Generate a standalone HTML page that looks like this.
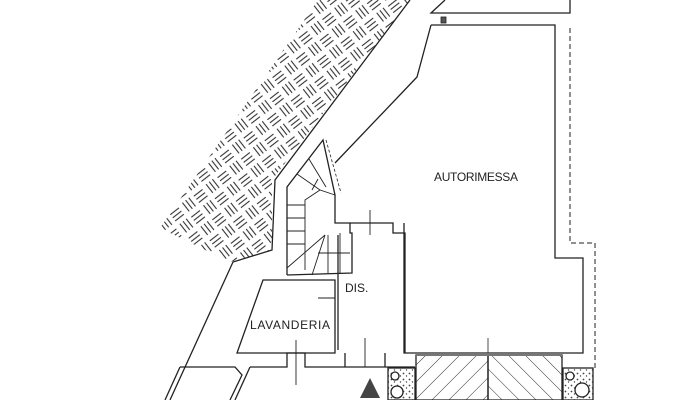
<!DOCTYPE html>
<html><head><meta charset="utf-8"><style>
html,body{margin:0;padding:0;background:#fff;}
svg{display:block;}
text{font-family:"Liberation Sans",sans-serif;font-size:12px;fill:#222;}
</style></head><body>
<svg width="700" height="400" viewBox="0 0 700 400" xmlns="http://www.w3.org/2000/svg">
<defs>
<pattern id="bw" width="30" height="30" patternUnits="userSpaceOnUse" patternTransform="rotate(-38)">
<g stroke="#333" stroke-width="1.1" fill="none">
<line x1="2" y1="4" x2="13" y2="4"/><line x1="2" y1="8" x2="13" y2="8"/><line x1="2" y1="12" x2="13" y2="12"/>
<line x1="19" y1="2" x2="19" y2="13"/><line x1="23" y1="2" x2="23" y2="13"/><line x1="27" y1="2" x2="27" y2="13"/>
<line x1="4" y1="17" x2="4" y2="28"/><line x1="8" y1="17" x2="8" y2="28"/><line x1="12" y1="17" x2="12" y2="28"/>
<line x1="17" y1="19" x2="28" y2="19"/><line x1="17" y1="23" x2="28" y2="23"/><line x1="17" y1="27" x2="28" y2="27"/>
</g></pattern>
<pattern id="hl" width="12" height="12" patternUnits="userSpaceOnUse" patternTransform="rotate(45)"><line x1="0" y1="0" x2="0" y2="12" stroke="#333" stroke-width="1"/></pattern>
<pattern id="hr" width="12" height="12" patternUnits="userSpaceOnUse" patternTransform="rotate(-45)"><line x1="0" y1="0" x2="0" y2="12" stroke="#333" stroke-width="1"/></pattern>
<pattern id="gr" width="6" height="6" patternUnits="userSpaceOnUse"><rect width="6" height="6" fill="#fff"/><circle cx="1.5" cy="1.5" r="0.9" fill="#444"/><circle cx="4.5" cy="4" r="0.7" fill="#444"/></pattern>
</defs>
<g fill="none" stroke="#222" stroke-width="1.3">
<polygon points="318,0 410,0 272,180 272,250 230,262 160,228" fill="url(#bw)" stroke="none"/>
<polyline points="410,0 275,180 272,250 233,262 170,400"/>
<polyline points="431,25 417,77 335,163"/>
<polyline points="445,0 431,13 570,13 570,0"/>
<rect x="441" y="17" width="5" height="6" fill="#555" stroke-width="0.8"/>
<polyline points="431,25 555,25 555,258 583,258 583,353 404,353 404,223"/>
<text x="434" y="181" stroke="none" textLength="84">AUTORIMESSA</text>
<line x1="488" y1="338" x2="488" y2="353" stroke-width="0.8"/>
<polyline points="570,28 570,243 595,243 595,370" stroke-dasharray="5,3" stroke-width="1"/>
<!-- stairs -->
<polyline points="287,275 287,187 323,140 335,195 335,223 350,223 350,233 352,233 352,273 287,275"/>
<line x1="326" y1="140" x2="341" y2="193" stroke-dasharray="3,2" stroke-width="0.8"/>
<g stroke-width="0.9">
<polyline points="305,270 305,200 320,190 335,195"/>
<line x1="287" y1="205" x2="305" y2="205"/><line x1="287" y1="218" x2="305" y2="218"/>
<line x1="287" y1="231" x2="305" y2="231"/><line x1="287" y1="244" x2="305" y2="244"/>
<line x1="287" y1="268" x2="325" y2="235"/><line x1="312" y1="275" x2="325" y2="235"/>
<line x1="297" y1="174" x2="320" y2="190"/><line x1="309" y1="159" x2="326" y2="187"/>
<line x1="328" y1="235" x2="328" y2="273"/><line x1="340" y1="233" x2="340" y2="273"/>
<line x1="318" y1="253" x2="350" y2="253"/>
<line x1="312" y1="190" x2="318" y2="179"/>
</g>
<polyline points="350,223 393,223 393,233 405,233 405,353"/>
<polyline points="338,235 338,350"/>
<line x1="370" y1="210" x2="370" y2="235" stroke-width="0.9"/>
<line x1="365" y1="338" x2="365" y2="367" stroke-width="0.9"/>
<text x="345" y="292" stroke="none">DIS.</text>
<polygon points="263,280 335,280 335,353 237,353"/>
<line x1="318" y1="298" x2="335" y2="298" stroke-width="0.9"/>
<text x="250" y="329" stroke="none" textLength="80">LAVANDERIA</text>
<polyline points="250,367 287,367 287,353 305,353 305,367 415,367"/>
<line x1="345" y1="353" x2="345" y2="367"/><line x1="385" y1="353" x2="385" y2="367"/>
<line x1="296" y1="340" x2="296" y2="385" stroke-width="0.9"/>
<polyline points="180,367 235,367 242,375 230,400"/>
<polyline points="180,367 165,400"/>
<line x1="250" y1="367" x2="235" y2="400"/>
<rect x="416" y="355" width="72" height="45" fill="url(#hl)"/>
<rect x="488" y="355" width="74" height="45" fill="url(#hr)"/>
<line x1="416" y1="355" x2="562" y2="355" stroke="#777" stroke-width="2"/>
<rect x="388" y="368" width="27" height="32" fill="url(#gr)"/>
<rect x="563" y="368" width="30" height="32" fill="url(#gr)"/>
<circle cx="395" cy="376" r="4" fill="#fff"/><circle cx="397" cy="392" r="6" fill="#fff"/>
<circle cx="570" cy="376" r="4" fill="#fff"/><circle cx="582" cy="390" r="7" fill="#fff"/>
</g>
<polygon points="370,378 360,398 380,398" fill="#444"/>
</svg>
</body></html>
